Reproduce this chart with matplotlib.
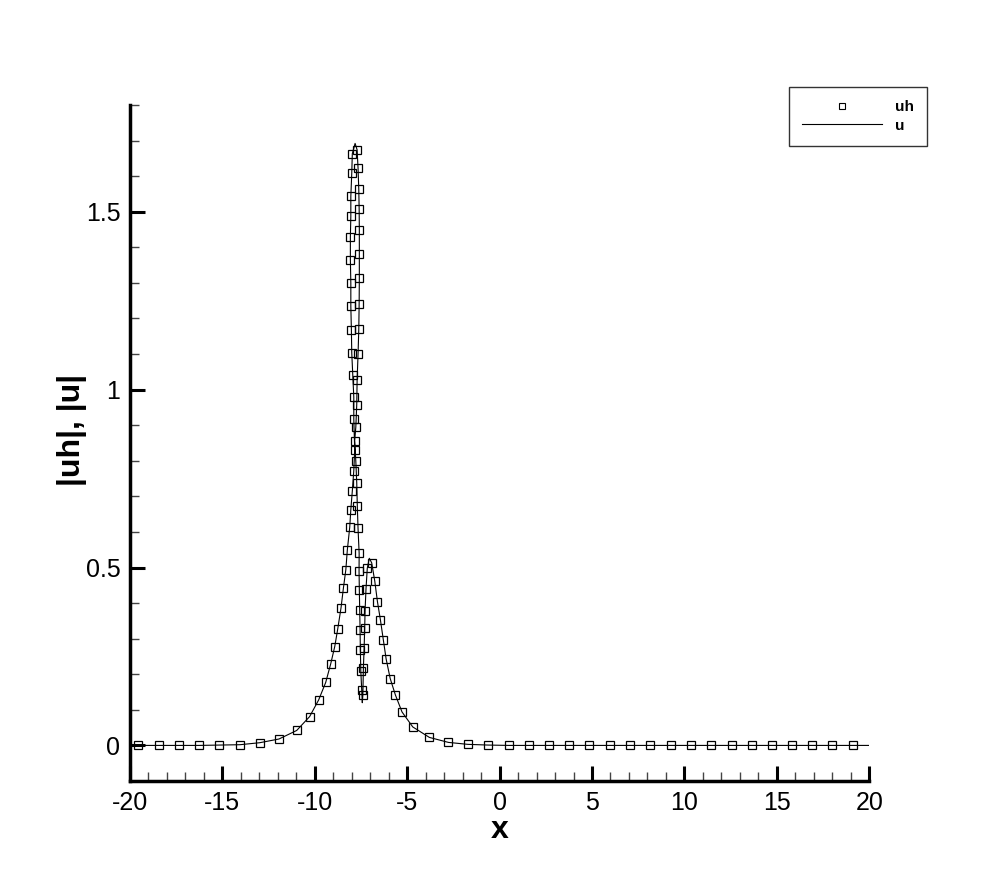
import matplotlib
matplotlib.use("Agg")
import matplotlib.pyplot as plt
from matplotlib.lines import Line2D
from matplotlib.ticker import MultipleLocator, FuncFormatter

plt.rcParams["font.family"] = ["Liberation Sans", "DejaVu Sans"]
plt.rcParams["axes.unicode_minus"] = False

# numerical solution |uh| at the mesh nodes (path order)
x_uh = [-19.55, -18.44, -17.35, -16.27, -15.17, -14.05, -12.98, -11.94, -10.98,
        -10.28, -9.79, -9.41, -9.14, -8.92, -8.76, -8.58, -8.45, -8.32, -8.24,
        -8.11, -8.05, -7.97, -7.89, -7.84, -7.89, -7.89, -7.945, -8.0, -8.02,
        -8.05, -8.05, -8.075, -8.075, -8.05, -8.05, -8.0, -7.97,
        -7.71, -7.66, -7.62, -7.60, -7.59, -7.59, -7.59, -7.60, -7.62, -7.66,
        -7.71, -7.73, -7.78, -7.84, -7.78, -7.73, -7.70, -7.66, -7.60, -7.605,
        -7.59, -7.57, -7.55, -7.535, -7.51, -7.46,
        -7.40, -7.37, -7.33, -7.30, -7.28, -7.23, -7.16,
        -6.92, -6.755, -6.61, -6.45, -6.29, -6.14, -5.92, -5.64, -5.28, -4.70,
        -3.80, -2.77, -1.72, -0.62, 0.51, 1.60, 2.68, 3.76, 4.86, 5.98, 7.06,
        8.15, 9.25, 10.35, 11.43, 12.55, 13.65, 14.73, 15.83, 16.93, 18.01, 19.12]
uh = [0.0, 0.0, 0.0, 0.0, 0.001, 0.002, 0.0076, 0.018, 0.042,
      0.081, 0.128, 0.177, 0.229, 0.278, 0.327, 0.387, 0.443, 0.494, 0.549,
      0.613, 0.663, 0.715, 0.772, 0.831, 0.918, 0.979, 1.041, 1.103, 1.168,
      1.234, 1.299, 1.365, 1.429, 1.487, 1.543, 1.608, 1.663,
      1.674, 1.623, 1.563, 1.508, 1.448, 1.381, 1.315, 1.241, 1.169, 1.099,
      1.026, 0.958, 0.895, 0.857, 0.798, 0.738, 0.674, 0.610, 0.540, 0.489,
      0.437, 0.380, 0.325, 0.268, 0.208, 0.155,
      0.141, 0.219, 0.274, 0.329, 0.379, 0.439, 0.498,
      0.513, 0.462, 0.404, 0.353, 0.296, 0.243, 0.188, 0.142, 0.094, 0.052,
      0.0225, 0.0085, 0.003, 0.001, 0.0, 0.0, 0.0, 0.0, 0.0, 0.0, 0.0,
      0.0, 0.0, 0.0, 0.0, 0.0, 0.0, 0.0, 0.0, 0.0, 0.0, 0.0]

# exact solution |u| (line)
x_u = [-20.0, -19.55, -18.44, -17.35, -16.27, -15.17, -14.05, -12.98, -11.94,
       -10.98, -10.28, -9.79, -9.41, -9.14, -8.92, -8.76, -8.58, -8.45, -8.32,
       -8.24, -8.11, -8.05, -7.97, -7.89, -7.84, -7.89, -7.89, -7.945, -8.0,
       -8.02, -8.05, -8.05, -8.075, -8.075, -8.05, -8.05, -8.0, -7.97, -7.82,
       -7.71, -7.66, -7.62, -7.60, -7.59, -7.59, -7.59, -7.60, -7.62, -7.66,
       -7.71, -7.73, -7.78, -7.84, -7.78, -7.73, -7.70, -7.66, -7.60, -7.605,
       -7.59, -7.57, -7.55, -7.535, -7.51, -7.46, -7.43,
       -7.40, -7.37, -7.33, -7.30, -7.28, -7.23, -7.16, -7.05,
       -6.92, -6.755, -6.61, -6.45, -6.29, -6.14, -5.92, -5.64, -5.28, -4.70,
       -3.80, -2.77, -1.72, -0.62, 0.51, 5.0, 10.0, 15.0, 20.0]
u = [0.0, 0.0, 0.0, 0.0, 0.0, 0.001, 0.002, 0.0076, 0.018,
     0.042, 0.081, 0.128, 0.177, 0.229, 0.278, 0.327, 0.387, 0.443, 0.494,
     0.549, 0.613, 0.663, 0.715, 0.772, 0.831, 0.918, 0.979, 1.041, 1.103,
     1.168, 1.234, 1.299, 1.365, 1.429, 1.487, 1.543, 1.608, 1.663, 1.692,
     1.674, 1.623, 1.563, 1.508, 1.448, 1.381, 1.315, 1.241, 1.169, 1.099,
     1.026, 0.958, 0.895, 0.857, 0.798, 0.738, 0.674, 0.610, 0.540, 0.489,
     0.437, 0.380, 0.325, 0.268, 0.208, 0.155, 0.12,
     0.141, 0.219, 0.274, 0.329, 0.379, 0.439, 0.498, 0.526,
     0.513, 0.462, 0.404, 0.353, 0.296, 0.243, 0.188, 0.142, 0.094, 0.052,
     0.0225, 0.0085, 0.003, 0.001, 0.0, 0.0, 0.0, 0.0, 0.0]

fig = plt.figure(figsize=(9.9, 8.8), dpi=100)
ax = fig.add_axes([0.1313, 0.1125, 0.7467, 0.7682])

ax.plot(x_u, u, color="black", lw=0.8, zorder=2)
ax.plot(x_uh, uh, ls="none", marker="s", ms=5.6, mfc="none", mec="black",
        mew=0.9, zorder=3)

ax.set_xlim(-20, 20)
ax.set_ylim(-0.1, 1.8)

for side in ("top", "right"):
    ax.spines[side].set_visible(False)
for side in ("left", "bottom"):
    ax.spines[side].set_linewidth(2.5)

ax.xaxis.set_major_locator(MultipleLocator(5))
ax.xaxis.set_minor_locator(MultipleLocator(1))
ax.yaxis.set_major_locator(MultipleLocator(0.5))
ax.yaxis.set_minor_locator(MultipleLocator(0.1))
ax.yaxis.set_major_formatter(FuncFormatter(lambda v, p: "%g" % v))
ax.xaxis.set_major_formatter(FuncFormatter(lambda v, p: "%g" % v))
ax.tick_params(which="major", direction="in", length=11, width=2.2,
               labelsize=18, pad=7, top=False, right=False)
ax.tick_params(which="minor", direction="in", length=6.5, width=1.0,
               color="#444444", top=False, right=False)

ax.set_xlabel("x", fontsize=23, fontweight="bold")
ax.set_ylabel("|uh|, |u|", fontsize=23, fontweight="bold")
ax.xaxis.set_label_coords(0.5, -0.05)
ax.yaxis.set_label_coords(-0.058, 0.52)

handles = [
    Line2D([], [], ls="none", marker="s", ms=5, mfc="none", mec="black", mew=0.8),
    Line2D([], [], color="black", lw=0.8),
]
leg = fig.legend(handles, ["uh", "u"], loc="lower right",
                 bbox_to_anchor=(0.936, 0.8344), borderaxespad=0,
                 frameon=True, fancybox=False,
                 prop={"weight": "bold", "size": 11}, handlelength=5.2,
                 handletextpad=0.85, borderpad=0.85, labelspacing=0.3)
leg.get_frame().set_edgecolor("black")
leg.get_frame().set_linewidth(1.0)

fig.savefig("out.png", dpi=100)
